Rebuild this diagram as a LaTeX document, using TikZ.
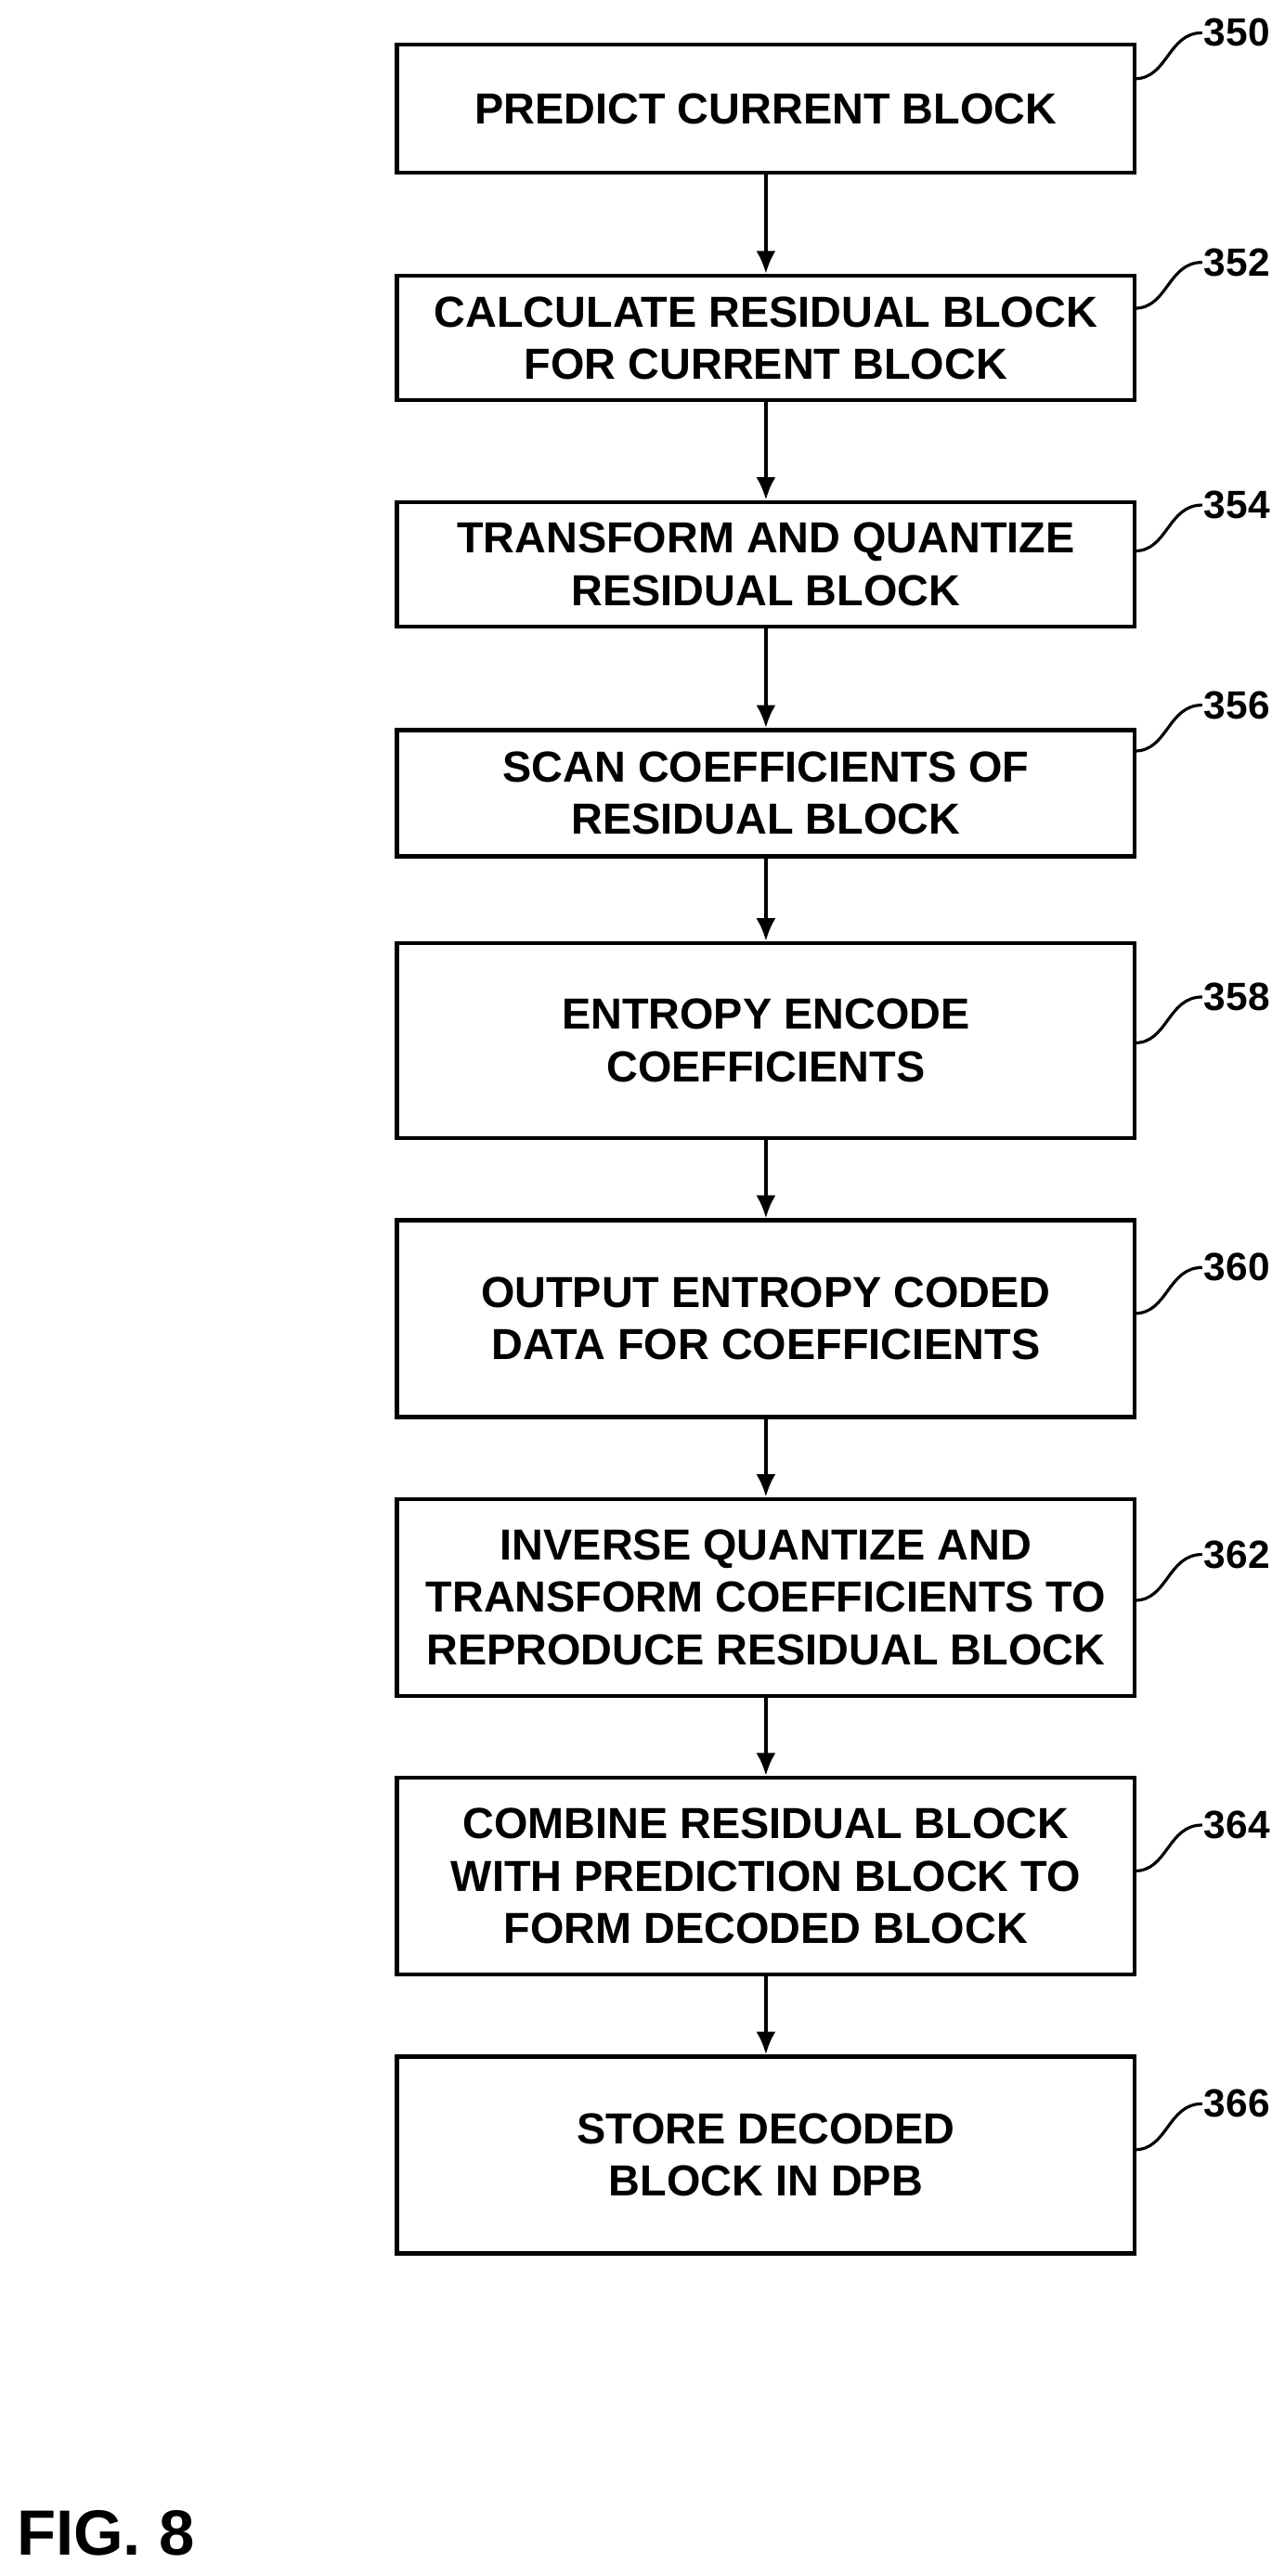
\documentclass[tikz,border=0pt]{standalone}
\usepackage{fontspec}
\setmainfont{Liberation Sans}
\usetikzlibrary{arrows.meta}
\begin{document}
\begin{tikzpicture}[x=1pt,y=-1pt,
  box/.style={draw,line width=2.4pt,minimum width=450pt,anchor=north,align=center,font=\fontsize{26.5}{32}\selectfont\bfseries,inner sep=0pt},
  lab/.style={font=\fontsize{24}{26}\selectfont\bfseries,anchor=west,inner sep=1pt},
  arr/.style={-{Latex[length=14pt,width=12pt]},line width=2.4pt},
  lead/.style={line width=1.8pt}]
\useasboundingbox (0,0) rectangle (783,1571);
\node[box,minimum height=78pt] (b1) at (467,26) {PREDICT CURRENT BLOCK};
\node[box,minimum height=76pt] (b2) at (467,167) {CALCULATE RESIDUAL BLOCK\\FOR CURRENT BLOCK};
\node[box,minimum height=76pt] (b3) at (467,305) {TRANSFORM AND QUANTIZE\\RESIDUAL BLOCK};
\node[box,minimum height=77pt] (b4) at (467,444) {SCAN COEFFICIENTS OF\\RESIDUAL BLOCK};
\node[box,minimum height=119pt] (b5) at (467,574) {ENTROPY ENCODE\\COEFFICIENTS};
\node[box,minimum height=120pt] (b6) at (467,743) {OUTPUT ENTROPY CODED\\DATA FOR COEFFICIENTS};
\node[box,minimum height=120pt] (b7) at (467,913) {INVERSE QUANTIZE AND\\TRANSFORM COEFFICIENTS TO\\REPRODUCE RESIDUAL BLOCK};
\node[box,minimum height=120pt] (b8) at (467,1083) {COMBINE RESIDUAL BLOCK\\WITH PREDICTION BLOCK TO\\FORM DECODED BLOCK};
\node[box,minimum height=120pt] (b9) at (467,1253) {STORE DECODED\\BLOCK IN DPB};
\foreach \a/\b in {b1/b2,b2/b3,b3/b4,b4/b5,b5/b6,b6/b7,b7/b8,b8/b9}
  \draw[arr] (\a.south) -- (\b.north);
\foreach \n/\t/\y in {b1/350/20,b2/352/160,b3/354/308,b4/356/430,b5/358/608,b6/360/773,b7/362/948,b8/364/1113,b9/366/1283}{
  \node[lab] (l\t) at (733,\y) {\t};
  \draw[lead] (692,\y+28) .. controls (712,\y+28) and (712,\y) .. (l\t.west);
}
\node[font=\fontsize{39}{42}\selectfont\bfseries,anchor=west,inner sep=0pt] (fig) at (10,1545) {FIG. 8};
\end{tikzpicture}
\end{document}
